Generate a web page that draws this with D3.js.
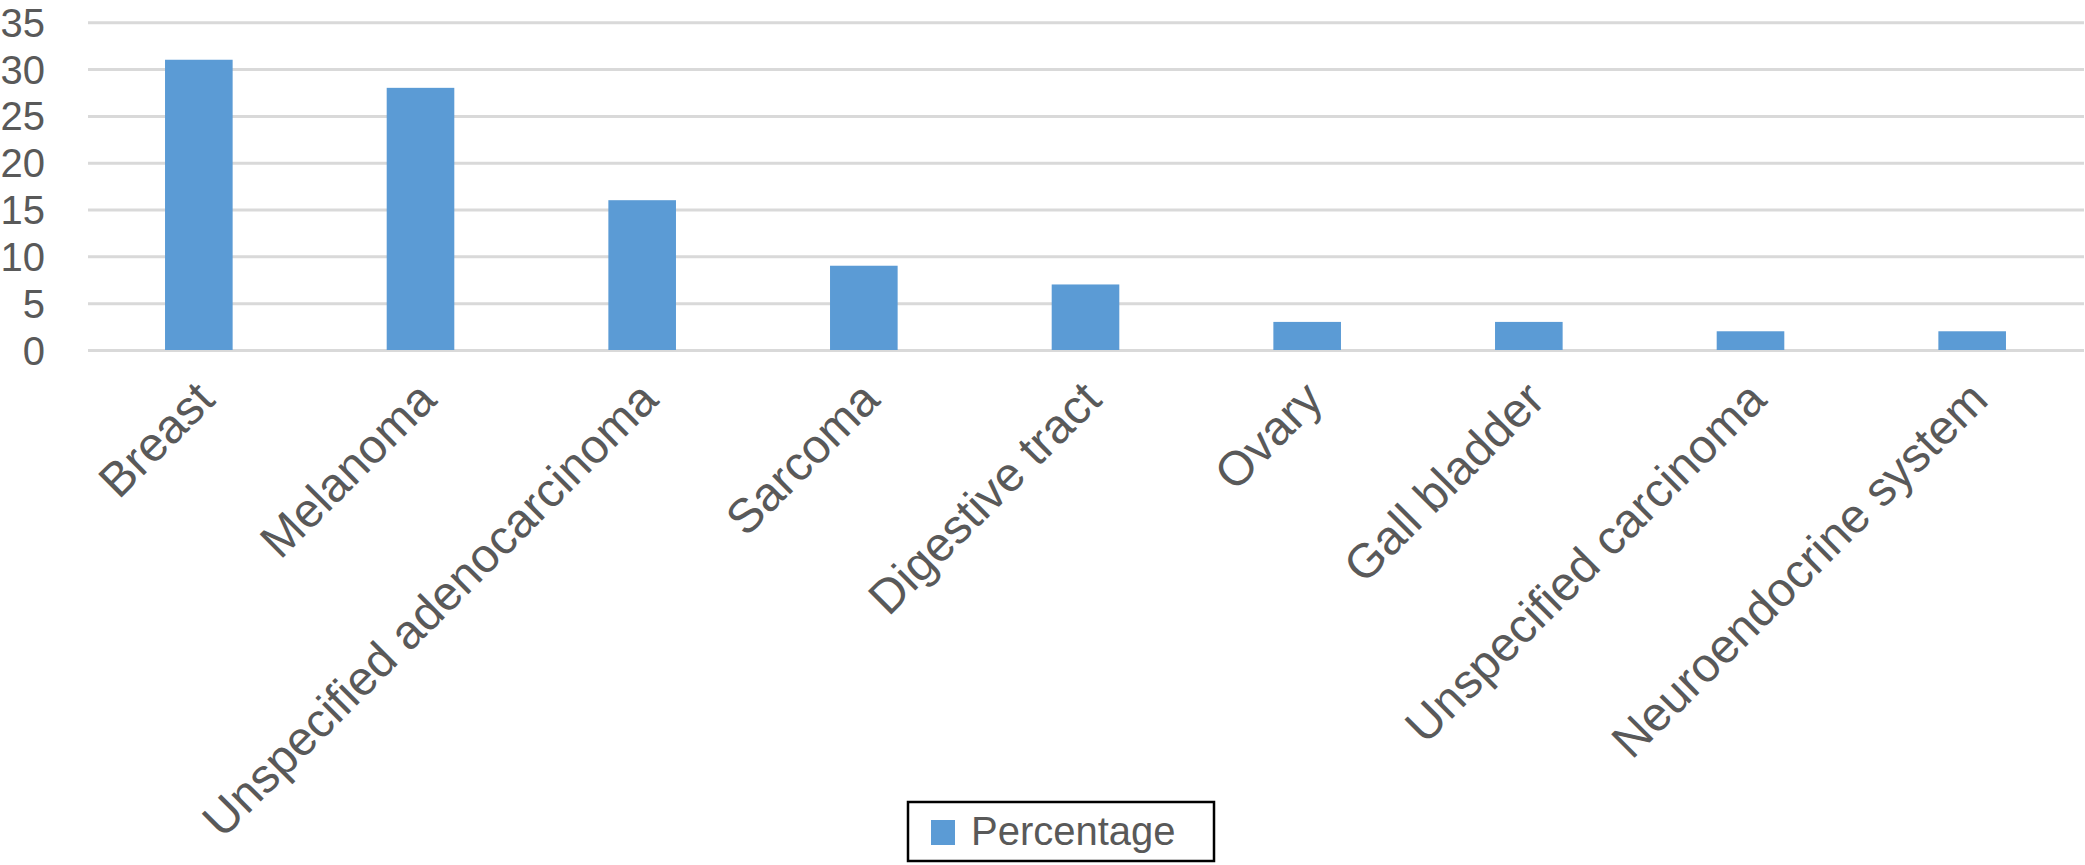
<!DOCTYPE html>
<html>
<head>
<meta charset="utf-8">
<script src="https://cdn.jsdelivr.net/npm/d3@7"></script>
<style>
  html, body { margin: 0; padding: 0; background: #fff; }
  svg { display: block; }
  text { font-family: "Liberation Sans", Arial, Helvetica, sans-serif; fill: #595959; }
</style>
</head>
<body>
<svg id="chart" width="2085" height="865"></svg>
<script>
const categories = ["Breast", "Melanoma", "Unspecified adenocarcinoma", "Sarcoma", "Digestive tract", "Ovary", "Gall bladder", "Unspecified carcinoma", "Neuroendocrine system"];
const percentage = [31, 28, 16, 9, 7, 3, 3, 2, 2];
const yTicks = [0, 5, 10, 15, 20, 25, 30, 35];
const seriesName = "Percentage";

const svg = d3.select("#chart");
const plot = { left: 88, right: 2083, top: 22.3, bottom: 350 };

const x = d3.scaleBand()
  .domain(categories)
  .range([plot.left, plot.right])
  .paddingInner(0.695)
  .paddingOuter(0.3475);

const y = d3.scaleLinear().domain([0, 35]).range([plot.bottom, plot.top]);

// gridlines via axis
const grid = svg.append("g")
  .attr("transform", `translate(${plot.left},0)`)
  .call(d3.axisLeft(y).tickValues(yTicks).tickSize(-(plot.right - plot.left + 1)).tickFormat(""));
grid.select(".domain").remove();
grid.selectAll(".tick line").attr("stroke", "#d9d9d9").attr("stroke-width", 3);

// y tick labels
const yAxis = svg.append("g")
  .attr("transform", `translate(45,0)`)
  .call(d3.axisLeft(y).tickValues(yTicks).tickSize(0).tickPadding(0));
yAxis.select(".domain").remove();
yAxis.selectAll(".tick text")
  .attr("font-size", 40)
  .attr("fill", "#595959")
  .attr("text-anchor", "end")
  .attr("dy", "0.35em")
  .style("font-family", "'Liberation Sans', Arial, Helvetica, sans-serif");

// bars
svg.append("g").selectAll("rect")
  .data(categories)
  .join("rect")
  .attr("x", d => x(d))
  .attr("width", x.bandwidth())
  .attr("y", (d, i) => y(percentage[i]))
  .attr("height", (d, i) => y(0) - y(percentage[i]))
  .attr("fill", "#5b9bd5");

// x axis labels rotated
const xAxis = svg.append("g")
  .attr("transform", `translate(0,${plot.bottom})`)
  .call(d3.axisBottom(x).tickSize(0).tickPadding(0));
xAxis.select(".domain").remove();
xAxis.selectAll(".tick text")
  .attr("font-size", 48)
  .attr("fill", "#595959")
  .attr("text-anchor", "end")
  .attr("x", 0)
  .attr("y", 0)
  .attr("dy", "0.71em")
  .attr("transform", "translate(-6,28) rotate(-45)")
  .style("font-family", "'Liberation Sans', Arial, Helvetica, sans-serif");

// legend
const legend = svg.append("g");
legend.append("rect")
  .attr("x", 908).attr("y", 802).attr("width", 306).attr("height", 59)
  .attr("fill", "#fff").attr("stroke", "#000").attr("stroke-width", 2.5);
legend.append("rect")
  .attr("x", 931).attr("y", 820).attr("width", 24).attr("height", 25)
  .attr("fill", "#5b9bd5");
legend.append("text")
  .attr("x", 971).attr("y", 845)
  .attr("font-size", 40)
  .text(seriesName);
</script>
</body>
</html>
